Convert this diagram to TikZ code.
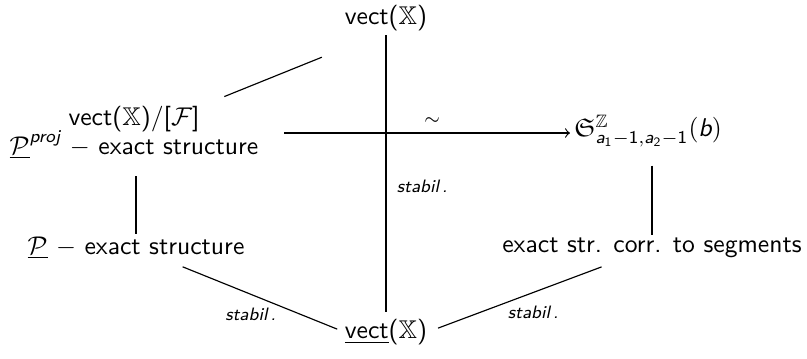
\documentclass[tikz,border=0pt]{standalone}
\usepackage{amsmath,amssymb}
\usepackage{fontspec}
\renewcommand{\familydefault}{\sfdefault}
\newcommand{\msl}[1]{\text{\sffamily\slshape #1}}
\newcommand{\msf}[1]{\text{\sffamily #1}}
\begin{document}
\begin{tikzpicture}[x=0.39pt,y=-0.39pt,
  every node/.style={inner sep=0pt},
  lbl/.style={font=\scriptsize\slshape},
  edge/.style={draw=black, line width=0.45pt}]
\useasboundingbox (0,0) rectangle (807,358);
\node (T) at (386,18) {vect($\mathbb{X}$)};
\node[align=center] (L) at (134,133) {vect($\mathbb{X}$)/[$\mathcal{F}$]\\[-1pt] $\underline{\mathcal{P}}^{\msl{proj}}$ $-$ exact structure};
\node (R) at (648,131) {$\mathfrak{S}^{\mathbb{Z}}_{\msl{a}_{\msf{1}}-\msf{1},\msl{a}_{\msf{2}}-\msf{1}}(\msl{b})$};
\node (P) at (136,248) {$\underline{\mathcal{P}}$ $-$ exact structure};
\node (E) at (652,248) {exact str. corr. to segments};
\node (B) at (386,332) {\underline{vect}($\mathbb{X}$)};
% connectors
\draw[edge, shorten <=1.5pt, shorten >=2.5pt] (T.south) -- node[lbl, pos=0.54, right=4pt] {stabil\,.} (B.north);
\draw[edge, shorten <=38pt, shorten >=27pt] (L.center) -- (T.south);
\draw[edge, ->, shorten <=10pt, shorten >=1.5pt] (L.east) -- node[pos=0.55, above=3pt] {$\scriptstyle\sim$} (L.east -| R.west);
\draw[edge, shorten <=6.5pt, shorten >=1pt] (P.north |- L.south) -- (P.north);
\draw[edge, shorten <=7pt, shorten >=1pt] (R.south -| E.north) -- (E.north);
\draw[edge, shorten <=19.6pt, shorten >=3pt] (P.center) -- node[lbl, pos=0.55, below=5pt] {stabil\,.} (B.west);
\draw[edge, shorten <=4.3pt, shorten >=21pt] (B.east) -- node[lbl, pos=0.47, below=5pt] {stabil\,.} (E.center);
\end{tikzpicture}
\end{document}
